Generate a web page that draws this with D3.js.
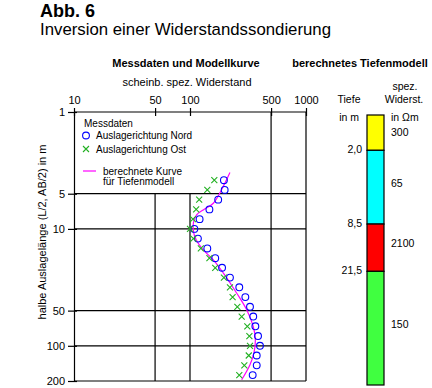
<!DOCTYPE html>
<html>
<head>
<meta charset="utf-8">
<script src="https://cdn.jsdelivr.net/npm/d3@7"></script>
<style>
  body { margin: 0; background: #fff; }
  svg { font-family: Arial, "Liberation Sans", sans-serif; }
</style>
</head>
<body>
<svg id="chart" width="432" height="388"></svg>
<script>
// ---------- data ----------
const spacing = [3.83, 4.64, 5.62, 6.81, 8.25, 10, 12.1, 14.7, 17.8, 21.5, 26.1,
  31.6, 38.3, 46.4, 56.2, 68.1, 82.5, 100, 121, 147, 178];
const nord = [196, 199, 175, 147, 121, 109, 117, 141, 165, 189, 221,
  266, 300, 329, 351, 366, 386, 401, 376, 376, 347];
const ost = [162, 141, 120, 113, 106, 100, 107, 124, 147, 165, 196,
  221, 233, 256, 279, 312, 325, 329, 321, 294, 266];

const curveDepth = [3.3, 4.58, 6.03, 6.88, 7.59, 8.89, 10.5, 12.4, 15.1, 18.4,
  23.9, 35.5, 49.2, 68.4, 88.9, 115, 145, 195];
const curveRho = [221, 188, 159, 130, 114, 107, 107, 113, 130, 159,
  194, 253, 308, 351, 366, 356, 329, 279];

const xTicks = [10, 50, 100, 500, 1000];
const yTicks = [1, 5, 10, 50, 100, 200];

const layerTop = [1, 2.0, 8.5, 21.5];
const layerBottom = [2.0, 8.5, 21.5, 200];
const layerRho = ["300", "65", "2100", "150"];
const layerColor = ["#ffff00", "#00ffff", "#ff0000", "#40ff40"];
const depthLabels = ["2,0", "8,5", "21,5"];

// ---------- setup ----------
const svg = d3.select("#chart");
const x = d3.scaleLog().domain([10, 1000]).range([74, 306]);
const y = d3.scaleLog().domain([1, 200]).range([112, 381]);
const yCol = d3.scaleLog().domain([1, 200]).range([115, 385]);

// titles
svg.append("text").attr("x", 40).attr("y", 17)
  .attr("font-size", 18).attr("font-weight", "bold").text("Abb. 6");
svg.append("text").attr("x", 40).attr("y", 35)
  .attr("font-size", 16.8).text("Inversion einer Widerstandssondierung");

svg.append("text").attr("x", 186).attr("y", 67).attr("text-anchor", "middle")
  .attr("font-size", 11).attr("font-weight", "bold").text("Messdaten und Modellkurve");
svg.append("text").attr("x", 360).attr("y", 67).attr("text-anchor", "middle")
  .attr("font-size", 11).attr("font-weight", "bold").text("berechnetes Tiefenmodell");
svg.append("text").attr("x", 187).attr("y", 86).attr("text-anchor", "middle")
  .attr("font-size", 11).text("scheinb. spez. Widerstand");

// ---------- grid / frame ----------
const grid = svg.append("g").attr("stroke", "#000").attr("stroke-width", 1.2);
yTicks.forEach(t => {
  grid.append("line").attr("x1", x(10)).attr("x2", x(1000))
    .attr("y1", y(t)).attr("y2", y(t));
});
[50, 100].forEach(t => {
  grid.append("line").attr("x1", x(t)).attr("x2", x(t))
    .attr("y1", y(5)).attr("y2", y(200));
});
[500, 1000].forEach(t => {
  grid.append("line").attr("x1", x(t)).attr("x2", x(t))
    .attr("y1", y(1)).attr("y2", y(200));
});

// axes
const xAxis = d3.axisTop(x).tickValues(xTicks).tickFormat(d3.format("d"))
  .tickSizeInner(4).tickSizeOuter(0).tickPadding(3);
const gx = svg.append("g").attr("transform", `translate(0,${y(1)})`).call(xAxis);
gx.select(".domain").remove();
gx.selectAll(".tick line").attr("y2", -4).attr("y1", 4).attr("stroke-width", 1.2);
gx.selectAll(".tick text").attr("font-size", 11).attr("font-family", null).attr("dy", "-1px");

const yAxis = d3.axisLeft(y).tickValues(yTicks).tickFormat(d3.format("d"))
  .tickSizeInner(6).tickSizeOuter(0).tickPadding(3);
const gy = svg.append("g").attr("transform", `translate(${x(10)},0)`).call(yAxis);
gy.select(".domain").attr("stroke-width", 1.2);
gy.selectAll(".tick line").attr("x1", 3).attr("stroke-width", 1.2);
gy.selectAll(".tick text").attr("font-size", 11).attr("font-family", null);

svg.append("text")
  .attr("transform", `translate(46,232) rotate(-90)`)
  .attr("text-anchor", "middle").attr("font-size", 11)
  .text("halbe Auslagelänge (L/2, AB/2) in m");

// ---------- model curve ----------
const line = d3.line()
  .x((d, i) => x(curveRho[i]))
  .y(d => y(d))
  .curve(d3.curveCatmullRom);
svg.append("path").datum(curveDepth)
  .attr("d", line).attr("fill", "none")
  .attr("stroke", "#ff00ff").attr("stroke-width", 1.2);

// ---------- data points ----------
svg.append("g").selectAll("circle").data(spacing).join("circle")
  .attr("cx", (d, i) => x(nord[i])).attr("cy", d => y(d)).attr("r", 3.4)
  .attr("fill", "none").attr("stroke", "#0000ff").attr("stroke-width", 1.1);

const cross = s => `M${-s},${-s}L${s},${s}M${-s},${s}L${s},${-s}`;
svg.append("g").selectAll("path").data(spacing).join("path")
  .attr("transform", (d, i) => `translate(${x(ost[i])},${y(d)})`)
  .attr("d", cross(3)).attr("stroke", "#22b022").attr("stroke-width", 1.1);

// ---------- legend ----------
const lg = svg.append("g").attr("font-size", 10);
lg.append("text").attr("x", 84).attr("y", 127).text("Messdaten");
lg.append("circle").attr("cx", 86).attr("cy", 135.5).attr("r", 3.4)
  .attr("fill", "none").attr("stroke", "#0000ff").attr("stroke-width", 1.1);
lg.append("text").attr("x", 96).attr("y", 139).text("Auslagerichtung Nord");
lg.append("path").attr("transform", "translate(86,149)").attr("d", cross(3))
  .attr("stroke", "#22b022").attr("stroke-width", 1.1);
lg.append("text").attr("x", 96).attr("y", 153).text("Auslagerichtung Ost");
lg.append("line").attr("x1", 83).attr("x2", 96).attr("y1", 171).attr("y2", 171)
  .attr("stroke", "#ff00ff").attr("stroke-width", 1.2);
lg.append("text").attr("x", 103).attr("y", 175).text("berechnete Kurve");
lg.append("text").attr("x", 103).attr("y", 185).text("für Tiefenmodell");

// ---------- depth model column ----------
const col = svg.append("g").attr("font-size", 10.5);
col.append("text").attr("x", 349).attr("y", 103).attr("text-anchor", "middle").text("Tiefe");
col.append("text").attr("x", 405).attr("y", 90).attr("text-anchor", "middle").text("spez.");
col.append("text").attr("x", 404).attr("y", 103).attr("text-anchor", "middle").text("Widerst.");
col.append("text").attr("x", 359).attr("y", 121).attr("text-anchor", "end").text("in m");
col.append("text").attr("x", 391).attr("y", 121).text("in \u03A9m");

col.selectAll("rect").data(layerTop).join("rect")
  .attr("x", 367).attr("width", 17)
  .attr("y", d => yCol(d)).attr("height", (d, i) => yCol(layerBottom[i]) - yCol(d))
  .attr("fill", (d, i) => layerColor[i]).attr("stroke", "#000").attr("stroke-width", 1.2);

col.selectAll("text.depth").data(depthLabels).join("text").attr("class", "depth")
  .attr("x", 362).attr("y", (d, i) => yCol(layerTop[i + 1]) - 1)
  .attr("text-anchor", "end").attr("dy", "0.35em").text(d => d);

col.selectAll("text.rho").data(layerRho).join("text").attr("class", "rho")
  .attr("x", 391)
  .attr("y", (d, i) => (yCol(layerTop[i]) + yCol(layerBottom[i])) / 2 - (i === 0 ? 0 : 4))
  .attr("dy", "0.35em").text(d => d);
</script>
</body>
</html>
